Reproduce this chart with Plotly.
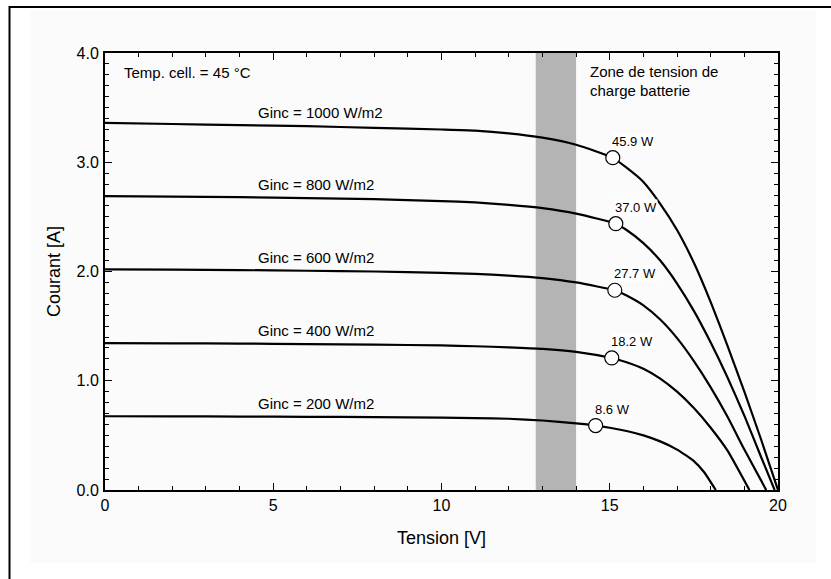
import plotly.graph_objects as go

# I-V characteristics of a PV module at 45 °C cell temperature
irradiance = [1000, 800, 600, 400, 200]  # W/m2

voltage = {
    1000: [0, 2, 4, 6, 8, 10, 11, 12, 13, 14, 15.09, 15.5, 16, 16.5, 17, 17.5, 18, 18.5, 19, 19.5, 20.0],
    800:  [0, 2, 4, 6, 8, 10, 11, 12, 13, 14, 15.18, 15.5, 16, 16.5, 17, 17.5, 18, 18.5, 19, 19.5, 19.9],
    600:  [0, 2, 4, 6, 8, 10, 11, 12, 13, 14, 15.15, 15.5, 16, 16.5, 17, 17.5, 18, 18.5, 19, 19.65],
    400:  [0, 2, 4, 6, 8, 10, 11, 12, 13, 14, 15.06, 15.5, 16, 16.5, 17, 17.5, 18, 18.5, 19.15],
    200:  [0, 2, 4, 6, 8, 10, 11, 12, 13, 14, 14.58, 15, 15.5, 16, 16.5, 17, 17.5, 17.8, 18.15],
}
current = {
    1000: [3.36, 3.35, 3.34, 3.33, 3.315, 3.30, 3.29, 3.265, 3.225, 3.16, 3.04, 2.95, 2.82, 2.62, 2.38, 2.08, 1.72, 1.32, 0.90, 0.46, 0.0],
    800:  [2.69, 2.686, 2.68, 2.672, 2.662, 2.645, 2.632, 2.61, 2.58, 2.53, 2.437, 2.38, 2.26, 2.10, 1.89, 1.64, 1.35, 1.03, 0.68, 0.30, 0.0],
    600:  [2.02, 2.017, 2.013, 2.007, 2.0, 1.988, 1.978, 1.963, 1.94, 1.90, 1.828, 1.78, 1.69, 1.56, 1.39, 1.18, 0.94, 0.67, 0.37, 0.0],
    400:  [1.345, 1.343, 1.34, 1.336, 1.331, 1.323, 1.316, 1.306, 1.292, 1.265, 1.208, 1.17, 1.11, 1.02, 0.90, 0.75, 0.57, 0.36, 0.0],
    200:  [0.675, 0.674, 0.672, 0.67, 0.667, 0.662, 0.658, 0.652, 0.636, 0.61, 0.59, 0.57, 0.54, 0.50, 0.445, 0.37, 0.265, 0.165, 0.0],
}

# Maximum power points
mpp_voltage = [15.09, 15.18, 15.15, 15.06, 14.58]
mpp_power = [45.9, 37.0, 27.7, 18.2, 8.6]
mpp_current = [p / v for p, v in zip(mpp_power, mpp_voltage)]

# Battery charging voltage window
battery_zone = [12.8, 14.0]

FONT = "Liberation Sans, Arial, sans-serif"

fig = go.Figure()

for g in irradiance:
    fig.add_trace(go.Scatter(
        x=voltage[g], y=current[g], mode="lines",
        line=dict(color="black", width=2.2, shape="spline", smoothing=0.5),
        hoverinfo="skip", showlegend=False,
    ))

fig.add_trace(go.Scatter(
    x=mpp_voltage, y=mpp_current, mode="markers",
    marker=dict(size=14, color="white", line=dict(color="black", width=1.2)),
    showlegend=False,
))

fig.add_shape(type="rect", xref="x", yref="y",
              x0=battery_zone[0], x1=battery_zone[1], y0=0, y1=4,
              fillcolor="#b4b4b4", line_width=0, layer="below")

# faint page panel behind the chart
fig.add_shape(type="rect", xref="paper", yref="paper",
              x0=-0.1114, x1=1.0565, y0=-0.167, y1=1.098,
              fillcolor="#fbfbfb", line_width=0, layer="below")

# outer frame around the figure
fig.add_shape(type="rect", xref="paper", yref="paper",
              x0=-0.1419, x1=1.12, y0=-0.25, y1=1.105,
              line=dict(color="black", width=2), fillcolor="rgba(0,0,0,0)")

annotations = []
for g in irradiance:
    annotations.append(dict(
        x=4.5, y=current[g][3], xref="x", yref="y", text=f"Ginc = {g} W/m2",
        showarrow=False, xanchor="left", yanchor="bottom", yshift=3,
        font=dict(family=FONT, size=15, color="black"),
    ))
for v, i, p in zip(mpp_voltage, mpp_current, mpp_power):
    annotations.append(dict(
        x=v, y=i, xref="x", yref="y", text=f"{p:.1f} W",
        showarrow=False, xanchor="left", yanchor="bottom",
        xshift=-2, yshift=8, bgcolor="white", borderpad=0,
        font=dict(family=FONT, size=13, color="black"),
    ))
annotations.append(dict(
    x=0.026, y=0.9565, xref="paper", yref="paper", text="Temp. cell. = 45 °C",
    showarrow=False, xanchor="left", yanchor="middle",
    font=dict(family=FONT, size=15, color="black"),
))
for txt, yp in [("Zone de tension de", 0.9574), ("charge batterie", 0.9153)]:
    annotations.append(dict(
        x=14.36, y=yp, xref="x", yref="paper", text=txt,
        showarrow=False, xanchor="left", yanchor="middle",
        font=dict(family=FONT, size=15, color="black"),
    ))

axis_common = dict(
    showline=True, linecolor="black", linewidth=2, mirror="ticks",
    ticks="inside", tickcolor="black", tickwidth=1, ticklen=7,
    showgrid=False, zeroline=False,
    tickfont=dict(family=FONT, size=16, color="black"),
)

fig.update_layout(
    width=831, height=579,
    margin=dict(l=105, r=53, t=53, b=89),
    paper_bgcolor="white", plot_bgcolor="white",
    xaxis=dict(range=[0, 20], dtick=5, tick0=0,
               minor=dict(dtick=1, ticks="inside", ticklen=4, tickcolor="black"),
               title=dict(text="Tension [V]", font=dict(family=FONT, size=18, color="black"),
                          standoff=18),
               **axis_common),
    yaxis=dict(range=[0, 4], dtick=1, tick0=0, tickformat=".1f",
               ticklabelstandoff=1,
               minor=dict(dtick=0.1, ticks="inside", ticklen=4, tickcolor="black"),
               title=dict(text="Courant [A]", font=dict(family=FONT, size=18, color="black"),
                          standoff=11),
               **axis_common),
    annotations=annotations,
    font=dict(family=FONT),
)

fig.write_html("out.html")
